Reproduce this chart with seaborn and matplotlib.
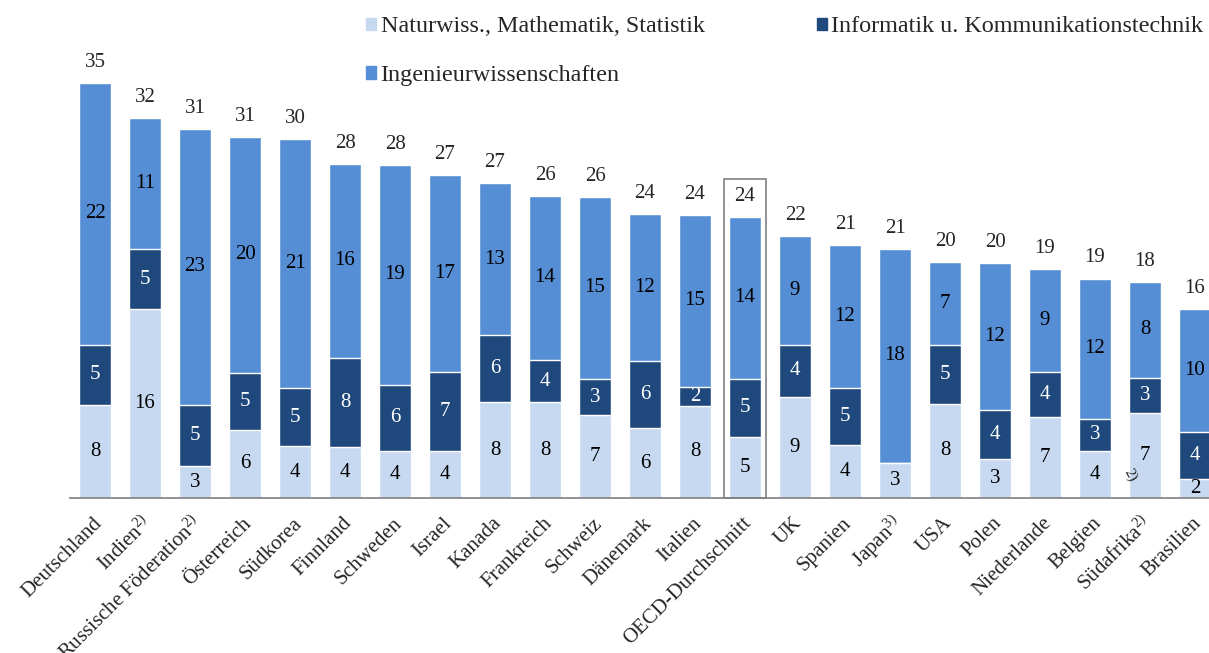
import matplotlib
matplotlib.use("Agg")
import matplotlib.pyplot as plt
import matplotlib.patches as mpatches
from matplotlib.transforms import ScaledTranslation
import seaborn as sns
import pandas as pd

# Laender (Reihenfolge wie im Original)
countries = ["Deutschland", "Indien$^{2)}$", "Russische Föderation$^{2)}$", "Österreich",
             "Südkorea", "Finnland", "Schweden", "Israel", "Kanada", "Frankreich",
             "Schweiz", "Dänemark", "Italien", "OECD-Durchschnitt", "UK", "Spanien",
             "Japan$^{3)}$", "USA", "Polen", "Niederlande", "Belgien", "Südafrika$^{2)}$",
             "Brasilien"]

# Anteile in % (aus dem Bild geschaetzt)
naturwiss = [7.9, 16.0, 2.7, 5.8, 4.4, 4.3, 4.0, 4.0, 8.1, 8.1, 7.0, 5.9, 7.8, 5.2,
             8.6, 4.5, 3.0, 8.0, 3.3, 6.9, 4.0, 7.2, 1.6]
informatik = [5.1, 5.1, 5.2, 4.8, 4.9, 7.6, 5.6, 6.7, 5.7, 3.6, 3.1, 5.7, 1.6, 4.9,
              4.4, 4.8, 0.0, 5.0, 4.2, 3.8, 2.7, 3.0, 4.0]
ingenieur = [22.2, 11.1, 23.4, 20.0, 21.1, 16.4, 18.6, 16.7, 12.9, 13.9, 15.4, 12.5,
             14.6, 13.7, 9.2, 12.1, 18.1, 7.0, 12.4, 8.7, 11.9, 8.1, 10.4]
totals = [35, 32, 31, 31, 30, 28, 28, 27, 27, 26, 26, 24, 24, 24, 22, 21, 21, 20, 20,
          19, 19, 18, 16]

series_names = ["Naturwiss., Mathematik, Statistik",
                "Informatik u. Kommunikationstechnik",
                "Ingenieurwissenschaften"]
c_light, c_dark, c_mid = "#C6D9F0", "#1F497D", "#558ED5"

df = pd.DataFrame({"land": countries, "nat": naturwiss, "inf": informatik, "ing": ingenieur})
df["s1"] = df["nat"]
df["s2"] = df["nat"] + df["inf"]
df["s3"] = df["s2"] + df["ing"]

sns.set_style("white")
plt.rcParams["font.family"] = ["Liberation Serif", "DejaVu Serif"]
plt.rcParams["mathtext.fontset"] = "custom"
plt.rcParams["mathtext.rm"] = "Liberation Serif"
plt.rcParams["mathtext.it"] = "Liberation Serif:italic"

fig = plt.figure(figsize=(12.09, 6.53), dpi=100)
ax = fig.add_axes([70 / 1209, 1 - 498 / 653, 1 - 70 / 1209, 498 / 653])

# gestapelt: von oben nach unten uebermalen
bw = 0.64
for col, color in [("s3", c_mid), ("s2", c_dark), ("s1", c_light)]:
    sns.barplot(data=df, x="land", y=col, order=countries, color=color,
                saturation=1, width=bw, errorbar=None, ax=ax)

ax.set_xlim(-0.5, (1209 - 70) / 50 - 0.5)
ax.set_ylim(0, 498 / 11.8)
ax.set_xlabel("")
ax.set_ylabel("")
ax.set_yticks([])
for s in ["left", "right", "top"]:
    ax.spines[s].set_visible(False)
ax.spines["bottom"].set_color("#888888")
ax.spines["bottom"].set_linewidth(1.3)

# Tick-Striche zwischen den Kategorien
ax.set_xticks([i - 0.5 for i in range(len(countries))], minor=True)
ax.tick_params(axis="x", which="minor", length=6, width=1.3, color="#888888", direction="out")
ax.tick_params(axis="x", which="major", length=0, pad=4)
ax.set_xticks(range(len(countries)))
ax.set_xticklabels(countries, rotation=45, ha="right", va="center",
                   rotation_mode="anchor", fontsize=15)
for lbl in ax.get_xticklabels():
    lbl.set_transform(lbl.get_transform() + ScaledTranslation(0.04, -0.17, fig.dpi_scale_trans))

# Werte-Beschriftungen
for i, row in df.iterrows():
    segs = [(row["nat"], 0, "black"),
            (row["inf"], row["s1"], "white"),
            (row["ing"], row["s2"], "black")]
    for val, base, tc in segs:
        if val <= 0:
            continue
        ax.text(i, base + val / 2, f"{val:.0f}", ha="center", va="center",
                color=tc, fontsize=15)
    ax.annotate(str(totals[i]), (i, row["s3"]), xytext=(0, 8), textcoords="offset points",
                ha="center", va="bottom", fontsize=15)

# Rahmen um OECD-Durchschnitt
k = countries.index("OECD-Durchschnitt")
ax.add_patch(mpatches.Rectangle((k - 0.42, 0), 0.84, df.loc[k, "s3"] + 3.2,
                                fill=False, edgecolor="#808080", linewidth=1.2,
                                clip_on=False, zorder=5))

# verirrte Fussnote im Balken (wie im Original)
j = countries.index("Südafrika$^{2)}$")
ax.text(j - 0.3, 1.9, "2)", rotation=-60, fontsize=11, ha="center", va="center")

# Legende zeilenweise: Spalte 1 = hell, mittel; Spalte 2 = dunkel
handles = [mpatches.Patch(color=c) for c in (c_light, c_mid, c_dark)]
labels = [series_names[0], series_names[2], series_names[1]]
fig.legend(handles, labels, loc="upper left", bbox_to_anchor=(366 / 1209, 0.975),
           ncol=2, frameon=False, fontsize=17.4, handlelength=0.4, handleheight=0.4,
           handletextpad=0.2, columnspacing=4.65, labelspacing=1.15,
           borderpad=0, borderaxespad=0)

fig.savefig("out.png", dpi=100)
